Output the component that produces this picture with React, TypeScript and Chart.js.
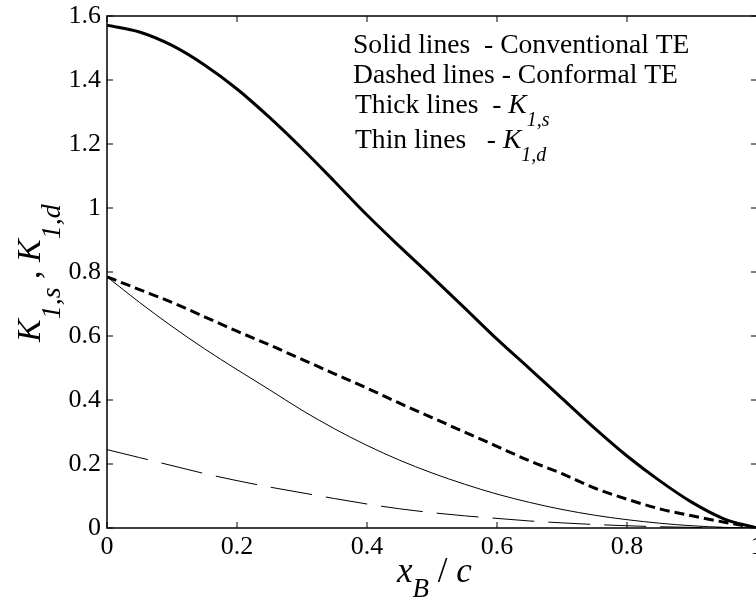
import React, { useEffect, useRef } from 'react';
import { Chart, registerables } from 'chart.js';

Chart.register(...registerables);

// x_B / c
const xValues = [0, 0.05, 0.1, 0.15, 0.2, 0.25, 0.3, 0.35, 0.4, 0.45, 0.5, 0.55, 0.6, 0.65, 0.7, 0.75, 0.8, 0.85, 0.9, 0.95, 1.0];
// Thick solid: K_1,s conventional TE
const conventionalK1s = [1.571, 1.55, 1.508, 1.447, 1.372, 1.283, 1.186, 1.083, 0.978, 0.88, 0.785, 0.688, 0.59, 0.498, 0.405, 0.312, 0.225, 0.148, 0.08, 0.028, 0.0];
// Thick dashed: K_1,s conformal TE
const conformalK1s = [0.785, 0.745, 0.705, 0.66, 0.615, 0.572, 0.527, 0.482, 0.437, 0.39, 0.345, 0.3, 0.255, 0.21, 0.17, 0.125, 0.09, 0.06, 0.038, 0.018, 0.0];
// Thin solid: K_1,d conventional TE
const conventionalK1d = [0.785, 0.705, 0.63, 0.56, 0.495, 0.432, 0.368, 0.31, 0.258, 0.212, 0.172, 0.137, 0.106, 0.08, 0.058, 0.04, 0.026, 0.015, 0.007, 0.002, 0.0];
// Thin dashed: K_1,d conformal TE
const conformalK1d = [0.245, 0.22, 0.195, 0.17, 0.148, 0.128, 0.11, 0.092, 0.075, 0.06, 0.048, 0.038, 0.03, 0.022, 0.016, 0.011, 0.007, 0.004, 0.002, 0.001, 0.0];

const xTickLabels = ['0', '0.2', '0.4', '0.6', '0.8', '1'];
const yTickLabels = ['0', '0.2', '0.4', '0.6', '0.8', '1', '1.2', '1.4', '1.6'];

const SERIF = '"Liberation Serif", "Times New Roman", Times, serif';

type Piece = { text: string; size: number; italic?: boolean; dy?: number };

function drawRich(ctx: CanvasRenderingContext2D, pieces: Piece[], x: number, y: number) {
  let cx = x;
  for (const p of pieces) {
    ctx.font = `${p.italic ? 'italic ' : ''}${p.size}px ${SERIF}`;
    ctx.fillText(p.text, cx, y + (p.dy || 0));
    cx += ctx.measureText(p.text).width;
  }
}

const annotationPlugin = {
  id: 'annotations',
  afterDraw(chart: any) {
    const ctx: CanvasRenderingContext2D = chart.ctx;
    const { left, right, top, bottom } = chart.chartArea;
    const xs = chart.scales.x;
    const ys = chart.scales.y;
    ctx.save();
    // frame
    ctx.strokeStyle = '#000';
    ctx.lineWidth = 1.5;
    ctx.strokeRect(left, top, right - left, bottom - top);
    // inward ticks
    ctx.lineWidth = 1;
    const tl = 6;
    ctx.beginPath();
    xs.ticks.forEach((t: any) => {
      const px = xs.getPixelForValue(t.value);
      ctx.moveTo(px, bottom);
      ctx.lineTo(px, bottom - tl);
      ctx.moveTo(px, top);
      ctx.lineTo(px, top + tl);
    });
    ys.ticks.forEach((t: any) => {
      const py = ys.getPixelForValue(t.value);
      ctx.moveTo(left, py);
      ctx.lineTo(left + tl, py);
      ctx.moveTo(right, py);
      ctx.lineTo(right - tl, py);
    });
    ctx.stroke();

    ctx.fillStyle = '#000';
    ctx.textBaseline = 'alphabetic';
    ctx.textAlign = 'left';

    // legend text
    drawRich(ctx, [{ text: 'Solid lines  - Conventional TE', size: 27.6 }], 353, 53);
    drawRich(ctx, [{ text: 'Dashed lines - Conformal TE', size: 27.6 }], 353, 83);
    drawRich(ctx, [
      { text: 'Thick lines  - ', size: 27.6 },
      { text: 'K', size: 27.6, italic: true },
      { text: '1,s', size: 20, italic: true, dy: 13 },
    ], 355, 113);
    drawRich(ctx, [
      { text: 'Thin lines   - ', size: 27.6 },
      { text: 'K', size: 27.6, italic: true },
      { text: '1,d', size: 20, italic: true, dy: 13 },
    ], 355, 148);

    // x title
    drawRich(ctx, [
      { text: 'x', size: 35, italic: true },
      { text: 'B', size: 27, italic: true, dy: 15 },
      { text: ' / ', size: 35 },
      { text: 'c', size: 35, italic: true },
    ], 397, 582);

    // y title (rotated)
    ctx.translate(40, 342);
    ctx.rotate(-Math.PI / 2);
    drawRich(ctx, [
      { text: 'K', size: 34, italic: true },
      { text: '1,s', size: 28, italic: true, dy: 20 },
      { text: ' , ', size: 34 },
      { text: 'K', size: 34, italic: true },
      { text: '1,d', size: 28, italic: true, dy: 20 },
    ], 0, 0);
    ctx.restore();
  },
};

export default function App() {
  const ref = useRef<HTMLCanvasElement | null>(null);

  useEffect(() => {
    if (!ref.current) return;
    const mk = (vals: number[]) => xValues.map((x, i) => ({ x, y: vals[i] }));
    const chart = new Chart(ref.current, {
      type: 'line',
      data: {
        datasets: [
          { data: mk(conventionalK1s), borderColor: '#000', borderWidth: 3, pointRadius: 0, cubicInterpolationMode: 'monotone' },
          { data: mk(conformalK1s), borderColor: '#000', borderWidth: 3, borderDash: [10, 5], pointRadius: 0, cubicInterpolationMode: 'monotone' },
          { data: mk(conventionalK1d), borderColor: '#000', borderWidth: 1, pointRadius: 0, cubicInterpolationMode: 'monotone' },
          { data: mk(conformalK1d), borderColor: '#000', borderWidth: 1, borderDash: [42, 14], pointRadius: 0, cubicInterpolationMode: 'monotone' },
        ],
      } as any,
      options: {
        animation: false,
        responsive: false,
        layout: { padding: { top: 16, right: 43, left: 0, bottom: 0 } },
        plugins: { legend: { display: false }, tooltip: { enabled: false } },
        scales: {
          x: {
            type: 'linear',
            min: 0,
            max: 1,
            grid: { display: false, drawTicks: false },
            border: { display: false },
            ticks: {
              stepSize: 0.2,
              autoSkip: false,
              maxRotation: 0,
              padding: 4,
              color: '#000',
              font: { family: SERIF, size: 26 },
              callback: (_v: any, i: number) => xTickLabels[i],
            },
            afterFit: (s: any) => {
              s.height = 71;
              s.paddingLeft = 0;
              s.paddingRight = 0;
            },
          },
          y: {
            type: 'linear',
            min: 0,
            max: 1.6,
            grid: { display: false, drawTicks: false },
            border: { display: false },
            ticks: {
              stepSize: 0.2,
              autoSkip: false,
              padding: 6,
              color: '#000',
              font: { family: SERIF, size: 26 },
              callback: (_v: any, i: number) => yTickLabels[i],
            },
            afterFit: (s: any) => {
              s.width = 107;
              s.paddingTop = 0;
              s.paddingBottom = 0;
            },
          },
        },
      } as any,
      plugins: [annotationPlugin],
    });
    return () => chart.destroy();
  }, []);

  return (
    <div style={{ position: 'fixed', left: 0, top: 0, width: 800, height: 599, background: '#fff' }}>
      <canvas ref={ref} width={800} height={599} style={{ width: 800, height: 599, display: 'block' }} />
    </div>
  );
}
